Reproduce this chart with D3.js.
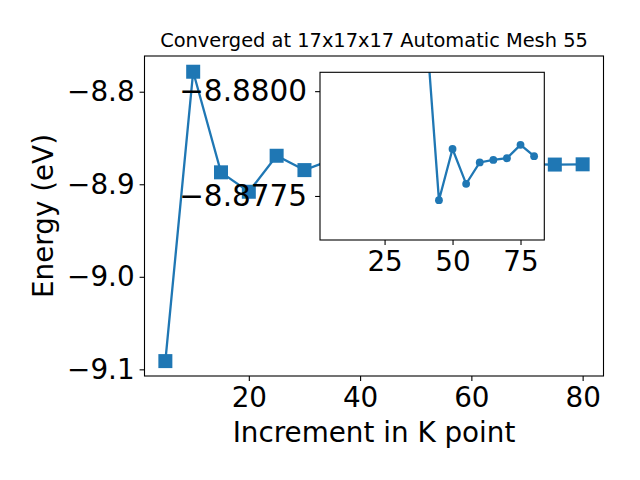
<!DOCTYPE html>
<html>
<head>
<meta charset="utf-8">
<script src="https://cdn.jsdelivr.net/npm/d3@7"></script>
<style>
  body { margin: 0; background: #fff; }
  text { font-family: "DejaVu Sans", "Noto Sans", sans-serif; }
</style>
</head>
<body>
<script>
// k point increments and total energies (eV)
const kPoints = [5, 10, 15, 20, 25, 30, 35, 40, 45, 50, 55, 60, 65, 70, 75, 80];
const energy = [-9.0911, -8.7784, -8.8871, -8.9081, -8.8692, -8.8847, -8.8733, -8.8818,
                -8.8774, -8.87862, -8.87779, -8.8783, -8.87836, -8.8784, -8.87872, -8.87845];

const xTicks = [20, 40, 60, 80];
const yTicks = [-8.8, -8.9, -9.0, -9.1];
const insetXTicks = [25, 50, 75];
const insetYTicks = [-8.88, -8.8775];
const insetStart = 7; // inset starts at 40

const title = 'Converged at 17x17x17 Automatic Mesh 55';
const color = '#1f77b4';
const font = '"DejaVu Sans", sans-serif';
const big = '27.8px';

const width = 640;
const height = 480;

const svg = d3.select('body')
  .append('svg')
  .attr('width', width)
  .attr('height', height);

const main = {left: 144.5, right: 603.5, top: 56, bottom: 376};
const inset = {left: 320, right: 544.3, top: 72.3, bottom: 240};

const xScale = d3.scaleLinear().domain([1.25, 83.75]).range([main.left, main.right]);
const yScale = d3.scaleLinear().domain([-9.1072, -8.7614]).range([main.bottom, main.top]);

const line = d3.line().x(d => xScale(d[0])).y(d => yScale(d[1]));
const data = kPoints.map((k, i) => [k, energy[i]]);

function styleAxis(g, size) {
  g.attr('font-family', null);
  g.selectAll('.domain').remove();
  g.selectAll('line').attr('stroke', '#000').attr('stroke-width', 1.1);
  g.selectAll('text')
    .attr('fill', '#000')
    .style('font-family', font)
    .style('font-size', size || big);
}

svg.append('g')
  .attr('transform', `translate(0, ${main.bottom})`)
  .call(d3.axisBottom(xScale).tickValues(xTicks).tickSize(4.9).tickPadding(6))
  .call(styleAxis);

svg.append('g')
  .attr('transform', `translate(${main.left}, 0)`)
  .call(d3.axisLeft(yScale).tickValues(yTicks).tickFormat(d3.format('.1f')).tickSize(4.9).tickPadding(5))
  .call(styleAxis);

svg.append('path')
  .datum(data)
  .attr('d', line)
  .attr('fill', 'none')
  .attr('stroke', color)
  .attr('stroke-width', 2.3);

svg.selectAll('rect.pt')
  .data(data)
  .enter()
  .append('rect')
  .attr('class', 'pt')
  .attr('x', d => xScale(d[0]) - 7)
  .attr('y', d => yScale(d[1]) - 7)
  .attr('width', 14)
  .attr('height', 14)
  .attr('fill', color);

svg.append('rect')
  .attr('x', main.left)
  .attr('y', main.top)
  .attr('width', main.right - main.left)
  .attr('height', main.bottom - main.top)
  .attr('fill', 'none')
  .attr('stroke', '#000')
  .attr('stroke-width', 1.1);

svg.append('text')
  .attr('x', (main.left + main.right) / 2)
  .attr('y', 47)
  .attr('text-anchor', 'middle')
  .style('font-family', font)
  .style('font-size', '19.4px')
  .text(title);

svg.append('text')
  .attr('x', (main.left + main.right) / 2)
  .attr('y', 442)
  .attr('text-anchor', 'middle')
  .style('font-family', font)
  .style('font-size', big)
  .text('Increment in K point');

svg.append('text')
  .attr('transform', `translate(53, ${(main.top + main.bottom) / 2}) rotate(-90)`)
  .attr('text-anchor', 'middle')
  .style('font-family', font)
  .style('font-size', big)
  .text('Energy (eV)');

// inset, zoomed on the converged part (y axis is flipped)
const ix = d3.scaleLinear().domain([1.25, 83.75]).range([inset.left, inset.right]);
const iy = d3.scaleLinear().domain([-8.88045, -8.87645]).range([inset.top, inset.bottom]);

svg.append('rect')
  .attr('x', inset.left)
  .attr('y', inset.top)
  .attr('width', inset.right - inset.left)
  .attr('height', inset.bottom - inset.top)
  .attr('fill', '#fff');

svg.append('clipPath')
  .attr('id', 'inset-clip')
  .append('rect')
  .attr('x', inset.left)
  .attr('y', inset.top)
  .attr('width', inset.right - inset.left)
  .attr('height', inset.bottom - inset.top);

const insetData = data.slice(insetStart);
const insetLine = d3.line().x(d => ix(d[0])).y(d => iy(d[1]));

const ig = svg.append('g').attr('clip-path', 'url(#inset-clip)');

ig.append('path')
  .datum(insetData)
  .attr('d', insetLine)
  .attr('fill', 'none')
  .attr('stroke', color)
  .attr('stroke-width', 2.3);

ig.selectAll('circle')
  .data(insetData)
  .enter()
  .append('circle')
  .attr('cx', d => ix(d[0]))
  .attr('cy', d => iy(d[1]))
  .attr('r', 3.9)
  .attr('fill', color);

svg.append('g')
  .attr('transform', `translate(0, ${inset.bottom})`)
  .call(d3.axisBottom(ix).tickValues(insetXTicks).tickSize(4.9).tickPadding(6))
  .call(styleAxis);

svg.append('g')
  .attr('transform', `translate(${inset.left}, 0)`)
  .call(d3.axisLeft(iy).tickValues(insetYTicks).tickFormat(d3.format('.4f')).tickSize(4.9).tickPadding(8))
  .call(g => styleAxis(g, '29.5px'));

svg.append('rect')
  .attr('x', inset.left)
  .attr('y', inset.top)
  .attr('width', inset.right - inset.left)
  .attr('height', inset.bottom - inset.top)
  .attr('fill', 'none')
  .attr('stroke', '#000')
  .attr('stroke-width', 1.1);
</script>
</body>
</html>
